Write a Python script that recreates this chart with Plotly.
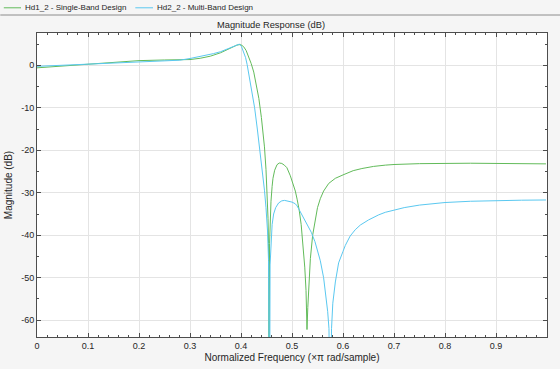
import plotly.graph_objects as go

# ---------------- data ----------------
freq_single = [0.0, 0.05, 0.1, 0.15, 0.2, 0.25, 0.28, 0.3, 0.32, 0.34, 0.36, 0.375, 0.385, 0.392,
               0.399, 0.405, 0.41, 0.415, 0.42, 0.425, 0.43, 0.435, 0.44, 0.443, 0.446, 0.449,
               0.451, 0.453, 0.454, 0.455, 0.456, 0.4575, 0.4588, 0.461, 0.4627, 0.466, 0.4706,
               0.475, 0.48, 0.485, 0.49, 0.4967, 0.503, 0.5065, 0.51, 0.514, 0.518, 0.522, 0.525,
               0.5275, 0.5294, 0.531, 0.533, 0.536, 0.5405, 0.5457, 0.55, 0.5555, 0.562, 0.572,
               0.585, 0.6, 0.62, 0.637, 0.66, 0.683, 0.7, 0.75, 0.8, 0.85, 0.9, 0.95, 0.998]
mag_single = [-0.6, -0.2, 0.25, 0.75, 1.1, 1.25, 1.25, 1.35, 1.65, 2.15, 2.95, 3.75, 4.4, 4.75,
              4.9, 4.4, 3.5, 2.1, 0.4, -1.6, -4.3, -7.8, -12.3, -15.5, -19.2, -24.5,
              -29.4, -36.0, -42.0, -90.0, -42.0, -35.0, -32.0, -28.5, -26.6, -24.7, -23.4,
              -23.0, -23.1, -23.5, -24.1, -26.0, -28.0, -29.6, -31.5, -34.0, -37.5, -42.5, -47.5,
              -53.0, -62.2, -57.0, -51.0, -45.5, -40.0, -35.8, -33.5, -31.4, -29.6, -27.8,
              -26.6, -25.8, -24.8, -24.3, -23.8, -23.5, -23.35, -23.15, -23.05, -23.05, -23.1, -23.15, -23.2]

freq_multi = [0.0, 0.05, 0.1, 0.15, 0.2, 0.25, 0.28, 0.3, 0.32, 0.346, 0.36, 0.3725, 0.3855, 0.392,
              0.397, 0.401, 0.405, 0.409, 0.412, 0.415, 0.42, 0.4267, 0.432, 0.437, 0.442, 0.446,
              0.449, 0.452, 0.454, 0.456, 0.457, 0.4588, 0.461, 0.464, 0.468, 0.4738, 0.48, 0.4855,
              0.492, 0.5, 0.5065, 0.51, 0.515, 0.52, 0.527, 0.5378, 0.545, 0.5555, 0.562, 0.566,
              0.57, 0.5725, 0.575, 0.5775, 0.58, 0.585, 0.5914, 0.6, 0.6045, 0.614, 0.624, 0.634,
              0.65, 0.67, 0.683, 0.7, 0.72, 0.75, 0.8, 0.85, 0.9, 0.95, 0.998]
mag_multi = [-0.25, 0.0, 0.25, 0.5, 0.7, 0.9, 1.2, 1.6, 2.05, 2.75, 3.2, 3.85, 4.5, 4.8,
             5.0, 4.4, 3.3, 1.8, 0.2, -1.7, -5.3, -10.0, -15.0, -20.0, -25.0, -29.4,
             -33.5, -39.0, -46.0, -90.0, -47.0, -41.0, -37.5, -35.0, -33.5, -32.4, -31.9, -31.8,
             -31.9, -32.2, -32.6, -33.1, -34.2, -35.3, -36.8, -39.3, -41.5, -46.0, -50.0, -53.5,
             -58.0, -62.0, -90.0, -62.0, -56.0, -51.0, -46.5, -43.8, -42.4, -40.2, -38.7, -37.6,
             -36.4, -35.2, -34.6, -34.1, -33.5, -32.9, -32.3, -32.0, -31.8, -31.75, -31.7]

series_names = ["Hd1_2 - Single-Band Design", "Hd2_2 - Multi-Band Design"]
x_tick_vals = [0, 0.1, 0.2, 0.3, 0.4, 0.5, 0.6, 0.7, 0.8, 0.9]
x_tick_text = ["0", "0.1", "0.2", "0.3", "0.4", "0.5", "0.6", "0.7", "0.8", "0.9"]
y_tick_vals = [-60, -50, -40, -30, -20, -10, 0]
y_tick_text = ["-60", "-50", "-40", "-30", "-20", "-10", "0"]

# ---------------- styling ----------------
GREEN = "#62bb5a"
BLUE = "#5ac8f0"
FONT = "Liberation Sans, Arial, Helvetica, sans-serif"
TXT = "#262626"
AX = "#4d4d4d"

W, H = 560, 369
L, R, T, B = 36.7, 13.3, 32.7, 32.3
PW, PH = W - L - R, H - T - B


def px2x(px):
    return (px - L) / PW


def px2y(py):
    return (H - B - py) / PH


fig = go.Figure()
fig.add_trace(go.Scatter(x=freq_single, y=mag_single, mode="lines", name=series_names[0],
                         line=dict(color=GREEN, width=1)))
fig.add_trace(go.Scatter(x=freq_multi, y=mag_multi, mode="lines", name=series_names[1],
                         line=dict(color=BLUE, width=1)))

axis_common = dict(
    showline=True, linecolor=AX, linewidth=1, mirror="allticks",
    ticks="inside", ticklen=4, tickcolor=AX, tickwidth=1,
    showgrid=True, gridcolor="#e4e4e4", gridwidth=1, zeroline=False,
    tickfont=dict(family=FONT, size=9, color=TXT), automargin=False,
)

fig.update_xaxes(range=[0, 1.0], tickmode="array", tickvals=x_tick_vals, ticktext=x_tick_text,
                 minor=dict(dtick=0.02, tick0=0, ticks="inside", ticklen=2, tickcolor=AX, showgrid=False),
                 title=dict(text="Normalized Frequency (×π rad/sample)",
                            font=dict(family=FONT, size=10, color=TXT), standoff=4),
                 **axis_common)
fig.update_yaxes(range=[-63.95, 7.6], tickmode="array", tickvals=y_tick_vals, ticktext=y_tick_text,
                 minor=dict(dtick=5, tick0=0, ticks="inside", ticklen=2, tickcolor=AX, showgrid=False),
                 title=dict(text="Magnitude (dB)", font=dict(family=FONT, size=10, color=TXT), standoff=6),
                 **axis_common)

shapes = [
    # legend strip separator
    dict(type="line", xref="paper", yref="paper", x0=px2x(0), x1=px2x(W), y0=px2y(14.7), y1=px2y(14.7),
         line=dict(color="#8c8c8c", width=1)),
    # legend line samples
    dict(type="line", xref="paper", yref="paper", x0=px2x(3.5), x1=px2x(20.7), y0=px2y(7.5), y1=px2y(7.5),
         line=dict(color=GREEN, width=1)),
    dict(type="line", xref="paper", yref="paper", x0=px2x(135), x1=px2x(152.7), y0=px2y(7.5), y1=px2y(7.5),
         line=dict(color=BLUE, width=1)),
]
annotations = [
    dict(text=series_names[0], xref="paper", yref="paper", x=px2x(22.7), y=px2y(7.5),
         xanchor="left", yanchor="middle", showarrow=False, font=dict(family=FONT, size=8, color=TXT)),
    dict(text=series_names[1], xref="paper", yref="paper", x=px2x(155), y=px2y(7.5),
         xanchor="left", yanchor="middle", showarrow=False, font=dict(family=FONT, size=8, color=TXT)),
]

fig.update_layout(
    width=W, height=H, autosize=False,
    margin=dict(l=L, r=R, t=T, b=B, pad=0, autoexpand=False),
    paper_bgcolor="#f5f5f5", plot_bgcolor="#ffffff",
    showlegend=False,
    font=dict(family=FONT, size=9, color=TXT),
    title=dict(text="Magnitude Response (dB)", xref="container", yref="container",
               x=271 / W, y=1 - 25 / H, xanchor="center", yanchor="middle",
               font=dict(family=FONT, size=9.3, color=TXT)),
    shapes=shapes, annotations=annotations,
)

fig.write_html("out.html",
               config={"displayModeBar": False},
               post_script="document.body.style.margin='0';document.body.style.overflow='hidden';"
                           "document.body.style.background='#f5f5f5';")
